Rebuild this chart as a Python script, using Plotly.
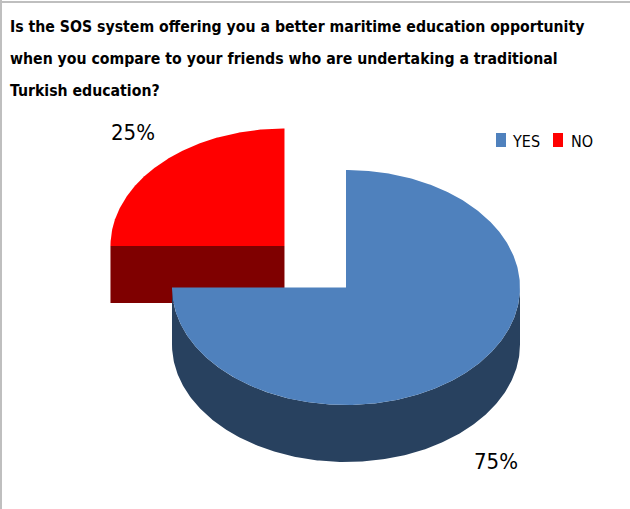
import numpy as np
import plotly.graph_objects as go

# Survey answers
categories = ["YES", "NO"]
shares = [75, 25]
exploded = [0.0, 0.5]          # fraction of radius each slice is pulled out

title_lines = [
    "Is the SOS system offering you a better maritime education opportunity",
    "when you compare to your friends who are undertaking a traditional",
    "Turkish education?",
]

# Styling / geometry of the 3D pie (pixel space)
TOP_COLORS = {"YES": "#4F81BD", "NO": "#FF0000"}
SIDE_COLORS = {"YES": "#28415F", "NO": "#7F0000"}
W, H = 630, 509
CX, CY = 346, 287.5        # centre of the top face
RX, RY = 174, 117.5        # ellipse radii of the top face
DEPTH = 57                 # thickness of the disc
FONT = "DejaVu Sans Condensed, Lato, sans-serif"


def pt(theta, cx, cy, drop=0.0):
    return cx + RX * np.cos(theta), cy - RY * np.sin(theta) + drop


fig = go.Figure()

# slice angles: start at 12 o'clock and run clockwise
total = float(sum(shares))
start = np.pi / 2
slices = []
for cat, v, ex in zip(categories, shares, exploded):
    sweep = 2 * np.pi * v / total
    t1 = start
    t0 = start - sweep
    mid = (t0 + t1) / 2
    cx = CX + RX * ex * np.cos(mid)
    cy = CY - RY * ex * np.sin(mid)
    slices.append((cat, v, t0, t1, cx, cy, mid))
    start = t0

# paint back slices first
order = sorted(slices, key=lambda s: s[5])
for cat, v, t0, t1, cx, cy, mid in order:
    side = SIDE_COLORS[cat]
    # radial cut faces facing the viewer
    for edge, normal in ((t0, t0 - np.pi / 2), (t1, t1 + np.pi / 2)):
        if np.sin(normal) < -1e-6:
            ex_, ey_ = pt(edge, cx, cy)
            xs = [cx, ex_, ex_, cx, cx]
            ys = [cy, ey_, ey_ + DEPTH, cy + DEPTH, cy]
            fig.add_trace(go.Scatter(x=xs, y=ys, fill="toself", mode="lines",
                                     line=dict(width=0, color=side), fillcolor=side,
                                     hoverinfo="skip", showlegend=False))
    # curved outer wall (front half only)
    th = np.linspace(t0, t1, 400)
    th = th[np.sin(th) <= 1e-9]
    if len(th) > 1:
        x_top, y_top = pt(th, cx, cy)
        x_bot, y_bot = pt(th[::-1], cx, cy, DEPTH)
        xs = np.concatenate([x_top, x_bot, x_top[:1]])
        ys = np.concatenate([y_top, y_bot, y_top[:1]])
        fig.add_trace(go.Scatter(x=xs, y=ys, fill="toself", mode="lines",
                                 line=dict(width=0, color=side), fillcolor=side,
                                 hoverinfo="skip", showlegend=False))
    # top face
    th = np.linspace(t0, t1, 400)
    x_arc, y_arc = pt(th, cx, cy)
    xs = np.concatenate([[cx], x_arc, [cx]])
    ys = np.concatenate([[cy], y_arc, [cy]])
    fig.add_trace(go.Scatter(x=xs, y=ys, fill="toself", mode="lines",
                             line=dict(width=0, color=TOP_COLORS[cat]),
                             fillcolor=TOP_COLORS[cat], name=cat,
                             hoverinfo="skip", showlegend=False))

# percentage labels outside the slices
label_pos = {"YES": (496, 461), "NO": (133, 132)}
for cat, v, *_ in slices:
    lx, ly = label_pos[cat]
    fig.add_annotation(x=lx, y=ly, text=f"{v}%", showarrow=False,
                       font=dict(family=FONT, size=22, color="black"),
                       xanchor="center", yanchor="middle")

# title, one annotation per line
for i, line in enumerate(title_lines):
    fig.add_annotation(x=8, y=26 + 32 * i, text=f"<b>{line}</b>", showarrow=False,
                       font=dict(family=FONT, size=15.7, color="black"),
                       xanchor="left", yanchor="middle")

# legend swatches
legend_items = [("YES", 496, 510), ("NO", 553, 569)]
for cat, sx, tx in legend_items:
    fig.add_shape(type="rect", x0=sx, x1=sx + 10, y0=133, y1=147,
                  fillcolor=TOP_COLORS[cat], line=dict(width=0))
    fig.add_annotation(x=tx, y=141, text=cat, showarrow=False,
                       font=dict(family=FONT, size=16, color="black"),
                       xanchor="left", yanchor="middle")

# frame lines along the top and left edges
fig.add_shape(type="line", xref="paper", yref="paper", x0=0, x1=1, y0=0.996, y1=0.996,
              line=dict(color="#BFBFBF", width=2))
fig.add_shape(type="line", xref="paper", yref="paper", x0=0.0016, x1=0.0016, y0=0, y1=1,
              line=dict(color="#BFBFBF", width=2))

fig.update_layout(
    width=W, height=H,
    margin=dict(l=0, r=0, t=0, b=0),
    paper_bgcolor="white", plot_bgcolor="white",
    xaxis=dict(range=[0, W], visible=False, fixedrange=True),
    yaxis=dict(range=[H, 0], visible=False, fixedrange=True),
    showlegend=False,
)

fig.write_html("out.html")
